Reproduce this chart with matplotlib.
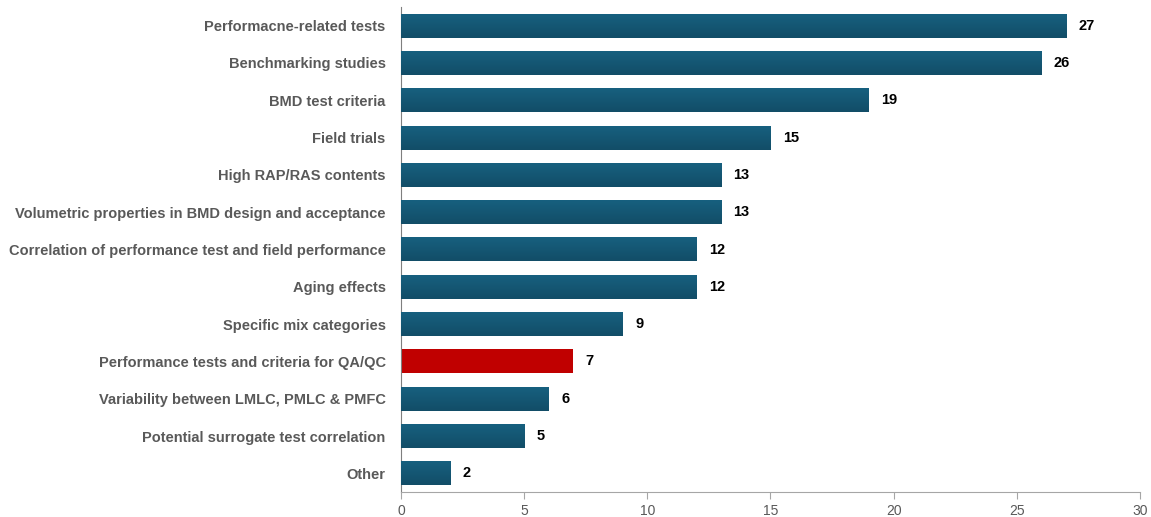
import numpy as np
import matplotlib.pyplot as plt
from matplotlib.colors import LinearSegmentedColormap

categories = [
    "Performacne-related tests",
    "Benchmarking studies",
    "BMD test criteria",
    "Field trials",
    "High RAP/RAS contents",
    "Volumetric properties in BMD design and acceptance",
    "Correlation of performance test and field performance",
    "Aging effects",
    "Specific mix categories",
    "Performance tests and criteria for QA/QC",
    "Variability between LMLC, PMLC & PMFC",
    "Potential surrogate test correlation",
    "Other",
]
counts = [27, 26, 19, 15, 13, 13, 12, 12, 9, 7, 6, 5, 2]
highlight = "Performance tests and criteria for QA/QC"

blue_top = "#17607f"
blue_bottom = "#124d67"
red = "#c00000"
grad = LinearSegmentedColormap.from_list("bar_grad", [blue_top, blue_bottom])

plt.rcParams['font.family'] = ['Liberation Sans', 'DejaVu Sans']

fig = plt.figure(figsize=(11.51, 5.17), dpi=100)
ax = fig.add_axes([0.3484, 0.0484, 0.642, 0.938])

y = np.arange(len(categories))
bar_h = 0.64
colors = [red if c == highlight else blue_top for c in categories]
bars = ax.barh(y, counts, height=bar_h, color=colors, zorder=2)

# vertical shading on the blue bars
g = np.linspace(0, 1, 64).reshape(-1, 1)
for cat, yi, v in zip(categories, y, counts):
    if cat == highlight:
        continue
    ax.imshow(g, cmap=grad, aspect='auto', zorder=3,
              extent=(0, v, yi + bar_h / 2, yi - bar_h / 2))

for yi, v in zip(y, counts):
    ax.text(v + 0.5, yi, str(v), va='center', ha='left',
            fontsize=10.5, fontweight='bold', color='black')

ax.set_xlim(0, 30)
ax.set_ylim(len(categories) - 0.5, -0.5)
ax.set_xticks(range(0, 31, 5))
ax.set_yticks(y)
ax.set_yticklabels(categories, fontsize=10.5, fontweight='bold', color='#595959')
ax.tick_params(axis='y', length=0, pad=11)
ax.tick_params(axis='x', length=5, color='#a6a6a6', labelsize=10,
               labelcolor='#595959', direction='out')

for s in ['top', 'right']:
    ax.spines[s].set_visible(False)
ax.spines['left'].set_color('#7f7f7f')
ax.spines['bottom'].set_color('#a6a6a6')

fig.savefig("out.png", dpi=100)
